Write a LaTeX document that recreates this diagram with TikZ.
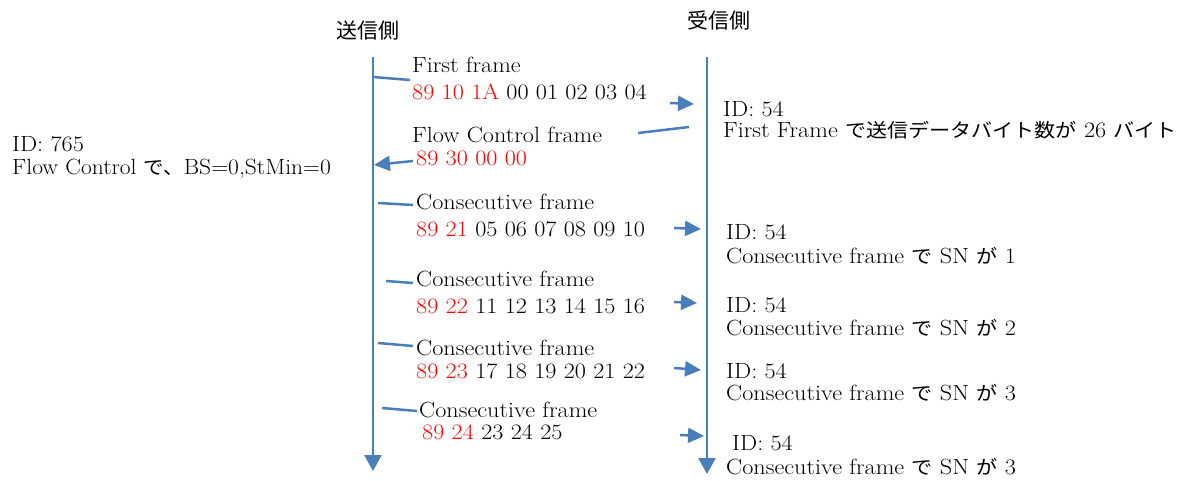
\documentclass[tikz,border=0pt]{standalone}
\usepackage{fontspec}
\usepackage{graphicx}
\newfontfamily\jp{Noto Sans CJK JP}[Scale=0.87]
\newfontfamily\jph{Noto Sans CJK JP}
\usetikzlibrary{arrows.meta}
\definecolor{lineblue}{HTML}{4A7EBB}
\definecolor{hexred}{HTML}{FF0000}
\tikzset{
  txt/.style={anchor=base west, inner sep=0pt, font=\fontsize{22}{26}\selectfont},
  head/.style={anchor=center, inner sep=0pt, font=\fontsize{21}{24}\selectfont\jph},
  stub/.style={draw=lineblue, line width=2.5pt},
  msg/.style={draw=lineblue, line width=2.5pt, -{Triangle[length=16pt,width=15pt,fill=lineblue]}},
  axis/.style={draw=lineblue, line width=2.5pt, -{Triangle[length=16pt,width=17pt,fill=lineblue]}},
}
\newcommand{\hx}[1]{\textcolor{hexred}{#1}}
\newcommand{\sx}[1]{\scalebox{1.1}[1]{#1}}
\begin{document}
\begin{tikzpicture}[x=1pt,y=-1pt]
\useasboundingbox (0,0) rectangle (1196,481);

% headers
\node[head] (hs) at (368,31) {送信側};
\node[head] (hr) at (719,20) {受信側};

% axes
\coordinate (sTop) at (373,57);
\coordinate (sBot) at (373,471);
\coordinate (rTop) at (707,57);
\coordinate (rBot) at (707,474);
\draw[axis] (sTop) -- (sBot);
\draw[axis] (rTop) -- (rBot);

% left note
\node[txt] (l1) at (12,152) {\sx{ID: 765}};
\node[txt] (l2) at (12,175) {\scalebox{1.07}[1]{Flow Control {\jp で、}BS=0,StMin=0}};

% First frame
\coordinate (a1) at (373,77); \coordinate (a2) at (410,80);
\draw[stub] (a1) -- (a2);
\node[txt] (ff1) at (412,73) {\sx{First frame}};
\node[txt] (ff2) at (412,100) {\sx{\hx{89 10 1A} 00 01 02 03 04}};
\coordinate (b1) at (670,103); \coordinate (b2) at (694,104);
\draw[msg] (b1) -- (b2);
\node[txt] (r1a) at (723,117) {\sx{ID: 54}};
\node[txt] (r1b) at (723,138) {\sx{First Frame {\jp で送信データバイト数が} 26 {\jp バイト}}};

% Flow control frame
\coordinate (c1) at (689,127); \coordinate (c2) at (638,133);
\draw[stub] (c1) -- (c2);
\node[txt] (fc1) at (412,143) {\sx{Flow Control frame}};
\node[txt] (fc2) at (416,166) {\sx{\hx{89 30 00 00}}};
\coordinate (d1) at (413,161); \coordinate (d2) at (374,165);
\draw[msg] (d1) -- (d2);

% Consecutive frame 1
\coordinate (e1) at (378,203); \coordinate (e2) at (413,205);
\draw[stub] (e1) -- (e2);
\node[txt] (cf1a) at (416,209) {\sx{Consecutive frame}};
\node[txt] (cf1b) at (416,236) {\sx{\hx{89 21} 05 06 07 08 09 10}};
\coordinate (f1) at (674,228); \coordinate (f2) at (701,229);
\draw[msg] (f1) -- (f2);
\node[txt] (r2a) at (726,240) {\sx{ID: 54}};
\node[txt] (r2b) at (726,263) {\sx{Consecutive frame {\jp で} SN {\jp が} 1}};

% Consecutive frame 2
\coordinate (g1) at (386,281); \coordinate (g2) at (413,283);
\draw[stub] (g1) -- (g2);
\node[txt] (cf2a) at (416,286) {\sx{Consecutive frame}};
\node[txt] (cf2b) at (416,313) {\sx{\hx{89 22} 11 12 13 14 15 16}};
\coordinate (h1) at (674,302); \coordinate (h2) at (697,303);
\draw[msg] (h1) -- (h2);
\node[txt] (r3a) at (726,312) {\sx{ID: 54}};
\node[txt] (r3b) at (726,335) {\sx{Consecutive frame {\jp で} SN {\jp が} 2}};

% Consecutive frame 3
\coordinate (i1) at (378,343); \coordinate (i2) at (413,346);
\draw[stub] (i1) -- (i2);
\node[txt] (cf3a) at (416,355) {\sx{Consecutive frame}};
\node[txt] (cf3b) at (416,378) {\sx{\hx{89 23} 17 18 19 20 21 22}};
\coordinate (j1) at (674,368); \coordinate (j2) at (701,370);
\draw[msg] (j1) -- (j2);
\node[txt] (r4a) at (726,378) {\sx{ID: 54}};
\node[txt] (r4b) at (726,400) {\sx{Consecutive frame {\jp で} SN {\jp が} 3}};

% Consecutive frame 4
\coordinate (k1) at (382,408); \coordinate (k2) at (417,411);
\draw[stub] (k1) -- (k2);
\node[txt] (cf4a) at (419,417) {\sx{Consecutive frame}};
\node[txt] (cf4b) at (422,439) {\sx{\hx{89 24} 23 24 25}};
\coordinate (m1) at (680,435); \coordinate (m2) at (704,436);
\draw[msg] (m1) -- (m2);
\node[txt] (r5a) at (732,450) {\sx{ID: 54}};
\node[txt] (r5b) at (726,474) {\sx{Consecutive frame {\jp で} SN {\jp が} 3}};

\end{tikzpicture}
\end{document}
